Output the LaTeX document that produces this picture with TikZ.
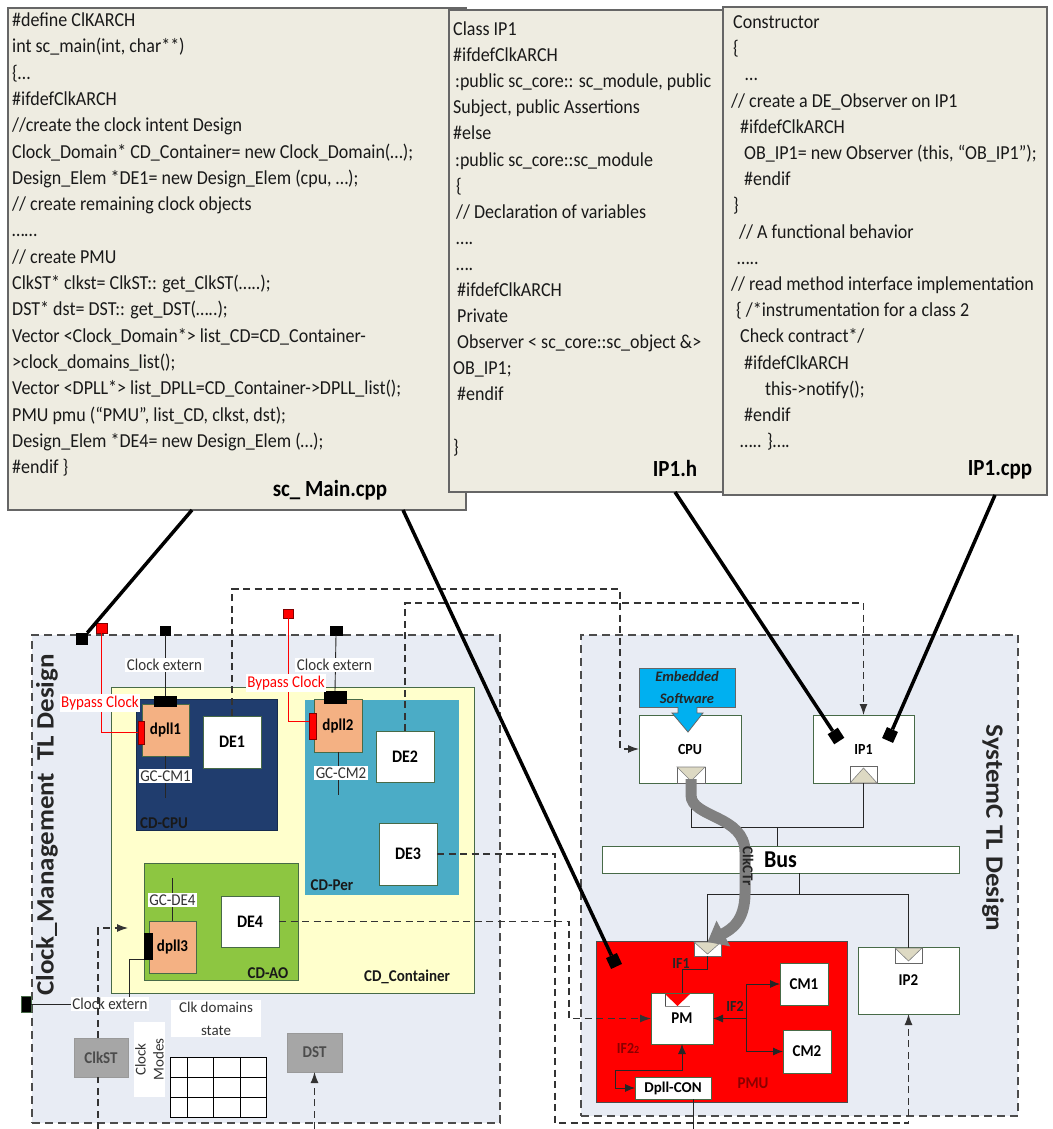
\documentclass[tikz,border=0pt]{standalone}
\usepackage{fontspec}
\usepackage{graphicx}
\setmainfont{Carlito}
\usetikzlibrary{arrows.meta}
\definecolor{codebg}{HTML}{EEECE1}
\definecolor{regbg}{HTML}{E8ECF4}
\definecolor{cdcont}{HTML}{FFFFCC}
\definecolor{cdcpu}{HTML}{203D6E}
\definecolor{cdper}{HTML}{4BACC6}
\definecolor{cdao}{HTML}{8DC641}
\definecolor{dpllc}{HTML}{F4B183}
\definecolor{embc}{HTML}{00B0F0}
\definecolor{grayst}{HTML}{A6A6A6}
\definecolor{bord}{HTML}{476A47}
\definecolor{portc}{HTML}{DDD9C3}
\definecolor{pmutxt}{HTML}{8A0000}
\newcommand{\bx}[7]{\node[#6, anchor=north west, inner sep=0pt, outer sep=0pt, minimum width={#4-#2}, minimum height={#5-#3}] (#1) at (#2,#3) {#7};}
\newcommand{\cl}[4]{\node[code] (#1) at (#2,{#3}) {\scalebox{1}[1.1]{#4}};}
\newcommand{\vst}[1]{\scalebox{1}[1.1]{#1}}
\begin{document}
\begin{tikzpicture}[x=1pt,y=-1pt,
  codebox/.style={draw=black!60, line width=1.3pt, fill=codebg},
  code/.style={font=\fontsize{18}{22}\selectfont, inner sep=0pt, anchor=base west, text=black!90},
  fname/.style={font=\fontsize{21}{24}\selectfont\bfseries, inner sep=0pt},
  region/.style={draw=black!70, line width=1.2pt, dash pattern=on 8pt off 5pt, fill=regbg},
  dsh/.style={draw=black!80, line width=1.1pt, dash pattern=on 7pt off 4.5pt},
  dshar/.style={dsh, -{Latex[length=11pt,width=8pt]}},
  blk/.style={draw=bord, line width=0.9pt, fill=white, font=\fontsize{16}{18}\selectfont\bfseries},
  dpl/.style={draw=bord, line width=0.9pt, fill=dpllc, font=\fontsize{15}{17}\selectfont\bfseries},
  gbox/.style={draw=black!40, line width=0.6pt, fill=grayst, font=\fontsize{15}{17}\selectfont\bfseries, text=black!70},
  cont/.style={draw=bord, line width=0.9pt},
  lbl/.style={fill=white, inner sep=1.5pt, font=\fontsize{15}{17}\selectfont, text=black!80},
  rlbl/.style={lbl, text=red},
  cdl/.style={font=\fontsize{15}{17}\selectfont\bfseries, inner sep=0pt, text=black!90},
  wire/.style={draw=black!85, line width=0.9pt},
  ar/.style={-{Latex[length=10pt,width=8pt]}},
  lnk/.style={line width=3.5pt, draw=black},
  sq/.style={fill=black, minimum size=12pt, inner sep=0pt},
  kport/.style={fill=black, draw=black},
  rport/.style={fill=red, draw=red!50!black, line width=0.5pt},
  port/.style={draw=black!60, line width=0.7pt, fill=white},
  pmtxt/.style={font=\fontsize{14}{16}\selectfont\bfseries, inner sep=0pt}
]
\useasboundingbox (0,0) rectangle (1052,1129);
\fill[white] (0,0) rectangle (1052,1129);

% ---------------- code boxes ----------------
\bx{cbL}{8}{8}{466}{510}{codebox}{}
\cl{a1}{12}{26.5}{\#define ClKARCH}
\cl{a2}{12}{52.8}{int sc\_main(int, char**)}
\cl{a3}{12}{79.1}{\{…}
\cl{a4}{12}{105.4}{\#ifdefClkARCH}
\cl{a5}{12}{131.7}{//create the clock intent Design}
\cl{a6}{12}{158}{Clock\_Domain* CD\_Container= new Clock\_Domain(…);}
\cl{a7}{12}{184.3}{Design\_Elem *DE1= new Design\_Elem (cpu, …);}
\cl{a8}{12}{210.6}{// create remaining clock objects}
\cl{a9}{12}{236.9}{……}
\cl{a10}{12}{263.2}{// create PMU}
\cl{a11}{12}{289.5}{ClkST* clkst= ClkST:: get\_ClkST(…..);}
\cl{a12}{12}{315.8}{DST* dst= DST:: get\_DST(…..);}
\cl{a13}{12}{342.1}{Vector <Clock\_Domain*> list\_CD=CD\_Container-}
\cl{a14}{12}{368.4}{>clock\_domains\_list();}
\cl{a15}{12}{394.7}{Vector <DPLL*> list\_DPLL=CD\_Container->DPLL\_list();}
\cl{a16}{12}{421}{PMU pmu (“PMU”, list\_CD, clkst, dst);}
\cl{a17}{12}{447.3}{Design\_Elem *DE4= new Design\_Elem (…);}
\cl{a18}{12}{473.6}{\#endif \}}
\node[fname] (f1) at (330,490) {\vst{sc\_ Main.cpp}};

\bx{cbM}{449}{10}{723}{492}{codebox}{}
\cl{b1}{453}{35.5}{Class IP1}
\cl{b2}{453}{61.6}{\#ifdefClkARCH}
\cl{b3}{455}{87.7}{:public sc\_core:: sc\_module, public}
\cl{b4}{453}{113.8}{Subject, public Assertions}
\cl{b5}{453}{139.9}{\#else}
\cl{b6}{455}{166}{:public sc\_core::sc\_module}
\cl{b7}{456}{192.1}{\{}
\cl{b8}{456}{218.2}{// Declaration of variables}
\cl{b9}{456}{244.3}{….}
\cl{b10}{456}{270.4}{….}
\cl{b11}{457}{296.5}{\#ifdefClkARCH}
\cl{b12}{457}{322.6}{Private}
\cl{b13}{457}{348.7}{Observer < sc\_core::sc\_object \&>}
\cl{b14}{453}{374.8}{OB\_IP1;}
\cl{b15}{457}{400.9}{\#endif}
\cl{b16}{453}{453.1}{\}}
\node[fname] (f2) at (675,468) {\vst{IP1.h}};

\bx{cbR}{723}{7}{1047}{495}{codebox}{}
\cl{c1}{733}{28.5}{Constructor}
\cl{c2}{733}{54.7}{\{}
\cl{c3}{745}{80.9}{…}
\cl{c4}{731}{107.1}{// create a DE\_Observer on IP1}
\cl{c5}{740}{133.3}{\#ifdefClkARCH}
\cl{c6}{744}{159.5}{OB\_IP1= new Observer (this, “OB\_IP1”);}
\cl{c7}{744}{185.7}{\#endif}
\cl{c8}{733}{211.9}{\}}
\cl{c9}{739}{238.1}{// A functional behavior}
\cl{c10}{737}{264.3}{…..}
\cl{c11}{731}{290.5}{// read method interface implementation}
\cl{c12}{736}{316.7}{\{ /*instrumentation for a class 2}
\cl{c13}{740}{342.9}{Check contract*/}
\cl{c14}{744}{369.1}{\#ifdefClkARCH}
\cl{c15}{765}{395.3}{this->notify();}
\cl{c16}{744}{421.5}{\#endif}
\cl{c17}{740}{447.7}{….. \}….}
\node[fname] (f3) at (1000,470) {\vst{IP1.cpp}};

\coordinate (l1) at (192,510);
\coordinate (l2) at (403,510);
\coordinate (l3) at (675,492);
\coordinate (l4) at (995,495);

% ---------------- regions ----------------
\bx{regL}{32}{635}{500}{1123}{region}{}
\bx{regR}{581}{635}{1018}{1116}{region}{}

% ---------------- left side ----------------
\bx{cdc}{111}{687}{474}{993}{cont, fill=cdcont}{}
\bx{cdcpu}{136}{699}{277}{830}{draw=cdcpu!70!black, line width=0.6pt, fill=cdcpu}{}
\bx{cdper}{305}{700}{459}{895}{fill=cdper}{}
\bx{cdao}{144}{863}{298}{980}{cont, fill=cdao}{}
\bx{dp1}{142}{704}{189}{756}{dpl}{\vst{dpll1}}
\bx{dp2}{314}{699}{362}{752}{dpl}{\vst{dpll2}}
\bx{dp3}{149}{921}{196}{973}{dpl}{\vst{dpll3}}
\bx{de1}{203}{716}{261}{768}{blk}{\vst{DE1}}
\bx{de2}{376}{731}{434}{782}{blk}{\vst{DE2}}
\bx{de3}{379}{823}{437}{885}{blk}{\vst{DE3}}
\bx{de4}{221}{896}{279}{947}{blk}{\vst{DE4}}
\bx{p1t}{154}{696}{176}{706}{kport}{}
\bx{p1r}{138}{721}{144}{744}{rport}{}
\bx{p2t}{324}{691}{346}{703}{kport}{}
\bx{p2r}{309}{713}{316}{739}{rport}{}
\bx{p3l}{144}{933}{152}{959}{kport}{}
\bx{pL}{21}{996}{31}{1012}{fill=black, draw=bord}{}
\bx{s1r}{96}{623}{107}{633}{rport}{}
\bx{s1k}{160}{626}{170}{635}{kport}{}
\bx{s2r}{283}{609}{293}{618}{rport}{}
\bx{s2k}{330}{626}{342}{635}{kport}{}

\draw[wire] (s1k.south) -- (p1t.north);
\draw[wire] (s2k.south) -- (p2t.north);
\draw[red, line width=0.9pt] (s1r.south) |- (p1r.west);
\draw[red, line width=0.9pt] (s2r.south) |- ([yshift=5pt]p2r.west);
\draw[wire] (dp1.south) -- ++(0,42);
\draw[wire] (dp2.south) -- ++(0,43);
\draw[wire] (dp3.north) -- ++(0,-43);

\node[lbl] (ce1) at (164.5,665) {\vst{Clock extern}};
\node[lbl] (ce2) at (334.5,665) {\vst{Clock extern}};
\node[lbl] (ce3) at (110,1004) {\vst{Clock extern}};
\node[rlbl] (bc1) at (100,703) {\vst{Bypass Clock}};
\node[rlbl] (bc2) at (286,683) {\vst{Bypass Clock}};
\node[lbl] (gc1) at (165.5,776) {\vst{GC-CM1}};
\node[lbl] (gc2) at (341,773) {\vst{GC-CM2}};
\node[lbl] (gc3) at (172.5,900) {\vst{GC-DE4}};
\coordinate (k3) at (129,0);
\draw[wire] (pL.east) -- (ce3.west);
\draw[wire] (ce3.north -| k3) |- (p3l.south west);

\node[cdl] (lcpu) at (164,823) {\vst{CD-CPU}};
\node[cdl] (lper) at (332,885) {\vst{CD-Per}};
\node[cdl] (lao) at (268,973) {\vst{CD-AO}};
\node[cdl] (lcont) at (407,977) {\vst{CD\_Container}};

\bx{clkst}{74}{1038}{128}{1077}{gbox}{\vst{ClkST}}
\bx{dst}{287}{1033}{342}{1072}{gbox}{\vst{DST}}
\node[lbl, align=center, minimum width=90pt, minimum height=37pt, font=\fontsize{15}{23}\selectfont] (cds) at (216,1018.5) {Clk domains\\state};
\node[lbl, rotate=90, align=center, minimum width=75pt, minimum height=27pt, font=\fontsize{15}{18}\selectfont] (cmo) at (149.5,1059.5) {Clock\\Modes};
\bx{tbl}{170}{1057}{266}{1117}{draw=black, line width=1pt, fill=white}{}
\foreach \xx in {187,213,240} \draw[line width=1pt] (\xx,1057) -- (\xx,1117);
\foreach \yy in {1077,1097} \draw[line width=1pt] (170,\yy) -- (266,\yy);

\node[font=\fontsize{25}{28}\selectfont\bfseries, rotate=90, text=black!85, inner sep=0pt] (ttl) at (47,825) {\scalebox{1.08}[1]{Clock\_Management\ \ TL Design}};

% ---------------- right side ----------------
\bx{cpu}{639}{715}{741}{783}{blk, font=\fontsize{14}{16}\selectfont\bfseries}{\vst{CPU}}
\bx{ip1}{813}{715}{914}{783}{blk, font=\fontsize{14}{16}\selectfont\bfseries}{\vst{IP1}}
\bx{emb}{639}{668}{735}{707}{draw=black!60, line width=0.8pt, fill=embc, align=center, font=\fontsize{14.5}{22}\selectfont\bfseries\itshape, text=black!85}{Embedded\\Software}
\fill[embc] (678.2,706) -- (678.2,713) -- (672,713) -- (688,732) -- (703,713) -- (696.8,713) -- (696.8,706) -- cycle;
\draw[black!60, line width=0.8pt] (678,707) -- (678,713) -- (672,713) -- (688,732) -- (703,713) -- (697,713) -- (697,707);
\bx{bus}{602}{846}{959}{873}{blk, font=\fontsize{22}{24}\selectfont\bfseries}{\vst{Bus}}
\bx{pmu}{596}{941}{847}{1102}{draw=black!70, fill=red, line width=0.9pt}{}
\bx{ip2}{858}{947}{959}{1014}{blk, font=\fontsize{15}{17}\selectfont\bfseries}{\vst{IP2}}
\bx{pm}{651}{993}{713}{1044}{blk, font=\fontsize{15}{17}\selectfont\bfseries}{\vst{PM}}
\bx{cm1}{780}{963}{828}{1005}{blk, font=\fontsize{15}{17}\selectfont\bfseries}{\vst{CM1}}
\bx{cm2}{783}{1030}{831}{1073}{blk, font=\fontsize{15}{17}\selectfont\bfseries}{\vst{CM2}}
\bx{dcon}{635}{1077}{711}{1099}{blk, font=\fontsize{15}{17}\selectfont\bfseries}{Dpll-CON}

\bx{cpup}{677}{767}{705}{783}{port}{}
\draw[fill=portc, draw=black!50, line width=0.6pt] (cpup.north west) -- (cpup.north east) -- ([yshift=2pt]cpup.south) -- cycle;
\bx{ip1p}{850}{766}{877}{783}{port}{}
\draw[fill=portc, draw=black!50, line width=0.6pt] (ip1p.south west) -- (ip1p.south east) -- ([yshift=-2pt]ip1p.north) -- cycle;
\bx{pmup}{694}{942}{721}{956}{port}{}
\draw[fill=portc, draw=black!50, line width=0.6pt] (pmup.north west) -- (pmup.north east) -- ([yshift=2pt]pmup.south) -- cycle;
\bx{ip2p}{895}{948}{922}{963}{port}{}
\draw[fill=portc, draw=black!50, line width=0.6pt] (ip2p.north west) -- (ip2p.north east) -- ([yshift=2pt]ip2p.south) -- cycle;
\bx{pmp}{665}{994}{690}{1006}{}{}
\fill[red] (pmp.north west) -- (pmp.north east) -- (pmp.south) -- cycle;
\draw[black!45, line width=1pt] (pmp.south west) -- (pmp.south east);
\draw[black!70, line width=0.8pt] (pmp.north west) -- (pmp.south west);

% bus wiring
\draw[wire] (cpup.south) -- ++(0,44) -| (ip1p.south);
\coordinate (k6) at (777,827);
\draw[wire] (k6) -- (k6 |- bus.north);
\coordinate (k7) at (799,894);
\draw[wire] (k7 |- bus.south) -- (k7);
\draw[wire] (pmup.north) |- (k7) -| (ip2p.north);

% PMU internals
\coordinate (k8) at (682,969);
\draw[wire] (pmup.south) |- (k8) -- (k8 |- pm.north);
\coordinate (k9) at (746,0);
\draw[wire, ar] (k9 |- pm.east) -- (pm.east);
\draw[wire, ar] (k9 |- cm1.west) -- (cm1.west);
\draw[wire, ar] (k9 |- cm2.west) -- (cm2.west);
\draw[wire] (k9 |- cm1.west) -- (k9 |- cm2.west);
\coordinate (k10) at (615,1070);
\draw[wire, ar] (k10) -| (pm.south);
\draw[wire, ar] (k10) |- (dcon.west);
\node[pmtxt, text=black!85] (if1) at (681,963) {\vst{IF1}};
\node[pmtxt, text=black!85] (if2) at (735,1006) {\vst{IF2}};
\node[pmtxt, text=pmutxt] (if22) at (628,1048) {\vst{IF2{\fontsize{10}{10}\selectfont 2}}};
\node[pmtxt, font=\fontsize{15}{17}\selectfont\bfseries, text=pmutxt] (pmul) at (753,1083) {\vst{PMU}};
\coordinate (k5) at (693,1129);
\draw[wire] (k5 |- dcon.south) -- (k5);

% ClkCtr arrow
\draw[line width=11pt, draw=black!50, -{Triangle[length=18pt,width=28pt]}] ([yshift=4pt]cpup.south) -- (691,795) .. controls (691,818) and (745,815) .. (745,852) -- (745,893) .. controls (745,922) and (730,930) .. (pmup.north);
\node[font=\fontsize{15}{17}\selectfont\bfseries, rotate=-90, text=black!85, inner sep=0pt] (clk) at (748,866) {ClkCTr};

\node[font=\fontsize{25}{28}\selectfont\bfseries, rotate=-90, text=black!85, inner sep=0pt] (ttr) at (993,828) {\scalebox{1.08}[1]{SystemC TL Design}};

% ---------------- dashed connectors ----------------
\coordinate (tA) at (620,589);
\coordinate (tB) at (863.5,603);
\coordinate (tC) at (555,1123);
\coordinate (tD) at (569,1018.5);
\coordinate (cb) at (98,1129);
\coordinate (tE) at (128,928);
\coordinate (tF) at (314.5,1129);
\draw[dshar] (de1.north) |- (tA) |- (cpu.west);
\draw[dshar] (de2.north) |- (tB) -- (ip1.north);
\draw[dshar] (de3.east) -| (tC) -| (ip2.south);
\draw[dshar] (de4.east) -| (tD) -- (pm.west);
\draw[dsh] (cb) -- (cb |- clkst.south);
\draw[dshar] (cb |- clkst.north) |- (tE);
\draw[dshar] (tF) -- (dst.south);

% ---------------- thick links ----------------
\node[sq] (sqL) at (82,639) {};
\node[sq, rotate=25] (sqP) at (614,961) {};
\node[sq, rotate=33] (sqI1) at (836,736) {};
\node[sq, rotate=-24] (sqI2) at (890,735) {};
\draw[lnk] (l1) -- (sqL);
\draw[lnk] (l2) -- (sqP);
\draw[lnk] (l3) -- (sqI1);
\draw[lnk] (l4) -- (sqI2);
\end{tikzpicture}
\end{document}
